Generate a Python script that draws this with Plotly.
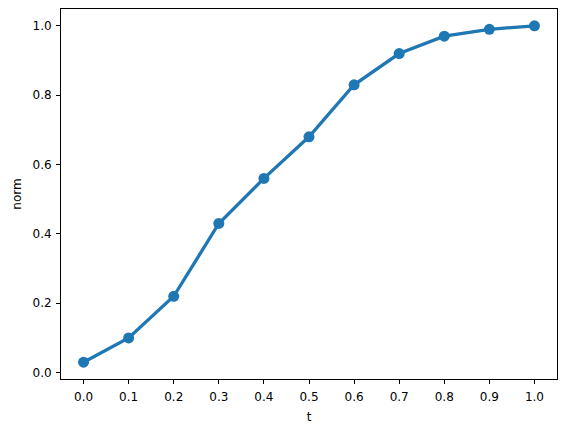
import plotly.graph_objects as go

t_labels = ["0.0", "0.1", "0.2", "0.3", "0.4", "0.5", "0.6", "0.7", "0.8", "0.9", "1.0"]
norm_values = [0.03, 0.10, 0.22, 0.43, 0.56, 0.68, 0.83, 0.92, 0.97, 0.99, 1.0]
y_ticks = [0.0, 0.2, 0.4, 0.6, 0.8, 1.0]

color = "#1f77b4"
fig = go.Figure(go.Scatter(
    x=t_labels, y=norm_values, mode="lines+markers",
    line=dict(color=color, width=3.3),
    marker=dict(color=color, size=11),
))

axis_common = dict(
    showline=True, linecolor="black", linewidth=1, mirror=True,
    ticks="outside", ticklen=4, tickcolor="black", tickwidth=1,
    showgrid=False, zeroline=False, automargin=False,
    tickfont=dict(family="DejaVu Sans", size=12, color="black"),
)

fig.update_layout(
    width=567, height=432,
    margin=dict(l=61, r=10, t=9, b=53),
    plot_bgcolor="white", paper_bgcolor="white",
    showlegend=False,
    font=dict(family="DejaVu Sans", size=12, color="black"),
    xaxis=dict(type="category", range=[-0.5, 10.5], ticklabelstandoff=3,
               title=dict(text="t", font=dict(size=12), standoff=9), **axis_common),
    yaxis=dict(range=[-0.0185, 1.0485], tickvals=y_ticks, ticklabelstandoff=2,
               ticktext=[f"{v:.1f}" for v in y_ticks],
               title=dict(text="norm", font=dict(size=12), standoff=8), **axis_common),
)

fig.write_html(
    "out.html",
    config={"displayModeBar": False},
    post_script="document.body.style.margin='0';document.body.style.padding='0';",
)
